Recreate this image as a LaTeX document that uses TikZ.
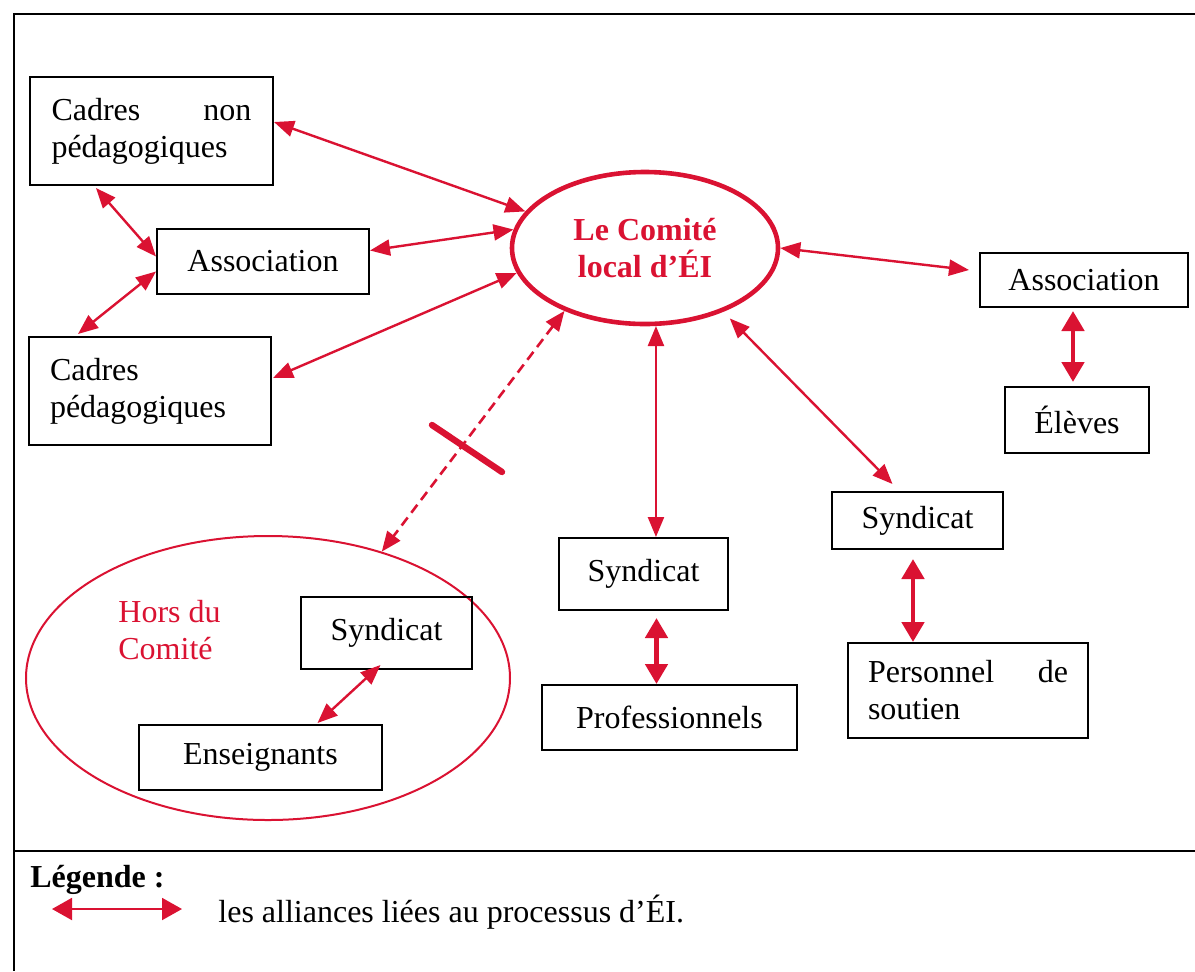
\documentclass[tikz,border=0pt]{standalone}
\usepackage{fontspec}
\setmainfont{Liberation Serif}
\usetikzlibrary{arrows.meta,calc,shapes.geometric}
\definecolor{allred}{RGB}{218,18,50}

\begin{document}
\begin{tikzpicture}[x=0.5pt,y=-0.5pt,
  every node/.style={font=\fontsize{16}{18.5}\selectfont},
  box/.style={draw=black,line width=1pt,inner sep=0pt,align=center},
  link/.style={draw=allred,line width=1.2pt,
    {Triangle[length=10pt,width=8pt]}-{Triangle[length=10pt,width=8pt]}},
  biglink/.style={draw=allred,line width=2.4pt,
    {Triangle[length=10pt,width=11pt]}-{Triangle[length=10pt,width=11pt]}},
  frameline/.style={draw=black,line width=1.3pt},
]
\useasboundingbox (0,0) rectangle (1195,971);

% outer frame and legend separator
\draw[frameline] (1195,14) -- (14,14) -- (14,971);
\draw[frameline] (14,851) -- (1195,851);

% central committee
\node[draw=allred,line width=2.3pt,ellipse,minimum width=133pt,minimum height=76pt,
      inner sep=0pt,text=allred,align=center,
      font=\bfseries\fontsize{16}{18.5}\selectfont] (comite) at (645,248)
      {Le Comité\\local d’ÉI};

% left group
\node[box,minimum width=121.5pt,minimum height=54pt,text width=100pt,align=left]
      (cnp) at (151.5,131) {Cadres\hfill non\\pédagogiques};
\node[box,minimum width=106pt,minimum height=32.5pt] (assocL) at (263,261.5) {Association};
\node[box,minimum width=121pt,minimum height=54pt,text width=100pt,align=left]
      (cp) at (150,391) {Cadres\\pédagogiques};

% right group
\node[box,minimum width=104pt,minimum height=27pt] (assocR) at (1084,280) {Association};
\node[box,minimum width=72pt,minimum height=33pt] (eleves) at (1077,420) {Élèves};

% lower middle
\node[box,minimum width=84.5pt,minimum height=36pt] (syndM) at (643.5,574) {Syndicat};
\node[box,minimum width=127.5pt,minimum height=32.5pt] (prof) at (669.5,717.5) {Professionnels};
\node[box,minimum width=85.5pt,minimum height=28.5pt] (syndR) at (917.5,520.5) {Syndicat};
\node[box,minimum width=120pt,minimum height=47.5pt,text width=100pt,align=left]
      (pers) at (968,690.5) {Personnel\hfill de\\soutien};

% outside the committee
\node[draw=allred,line width=1pt,ellipse,minimum width=242pt,minimum height=142pt,
      inner sep=0pt] (horsE) at (268,678) {};
\node[text=allred,anchor=west,align=left,inner sep=0pt] (horsT) at (118,630) {Hors du\\Comité};
\node[box,minimum width=85.5pt,minimum height=36pt] (hsyn) at (386.5,633) {Syndicat};
\node[box,minimum width=121.5pt,minimum height=32.5pt] (ens) at (260.5,757.5) {Enseignants};

% alliances
\draw[link] ($(cnp.east)+(0,-9)$) -- (comite.163);
\draw[link] ($(cnp.south west)+(67,2)$) -- ($(assocL.west)+(0,-5)$);
\draw[link] ($(assocL.west)+(0,10)$) -- ($(cp.north west)+(50,-2)$);
\draw[link] ($(assocL.east)+(0,-11)$) -- (comite.172);
\draw[link] ($(cp.east)+(1,-13)$) -- (comite.191);
\draw[link] (comite.0) -- ($(assocR.west)+(-10,-10)$);
\draw[biglink] ($(assocR.south)+(-11,3)$) -- ($(eleves.north)+(-4,-4)$);
\draw[link] (comite.-82) -- (comite.-82 |- syndM.north);
\coordinate (pm) at ($(syndM.south)+(13,7)$);
\draw[biglink] (pm) -- (pm |- prof.north);
\draw[link] ($(comite.-40)+(8,6)$) -- ($(syndR.north)+(-25,-7)$);
\coordinate (pr) at ($(syndR.south)+(-4.5,9)$);
\draw[biglink] (pr) -- (pr |- pers.north);
\draw[link] ($(hsyn.south)+(-6,-5)$) -- ($(ens.north)+(57,-1)$);

% broken alliance
\draw[link,line width=1.3pt,dash pattern=on 5pt off 3pt] (comite.218) -- (horsE.48);
\coordinate (barA) at (432,425);
\coordinate (barB) at (502,472);
\draw[allred,line width=3.2pt,line cap=round] (barA) -- (barB);

% legend
\node[anchor=west,inner sep=0pt,font=\bfseries\fontsize{16}{18.5}\selectfont] (legT) at (30,880) {Légende :};
\coordinate (legA) at (52,909);
\coordinate (legB) at (182,909);
\draw[draw=allred,line width=1pt,
      {Triangle[length=10pt,width=11pt]}-{Triangle[length=10pt,width=11pt]}] (legA) -- (legB);
\node[anchor=west,inner sep=0pt] (legD) at (218,912) {les alliances liées au processus d’ÉI.};
\end{tikzpicture}
\end{document}
